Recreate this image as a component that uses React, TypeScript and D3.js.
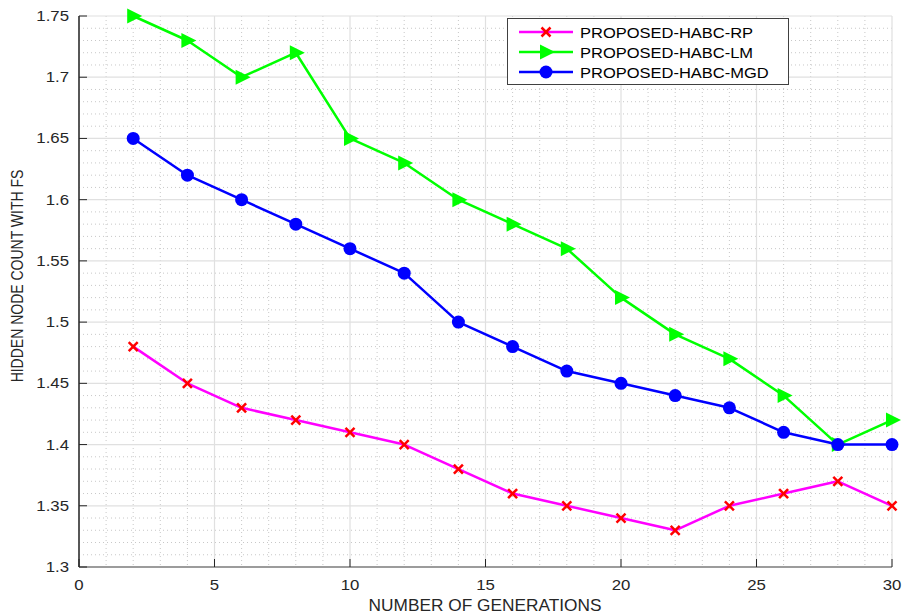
import React from "react";
import * as d3 from "d3";

const generations = [2, 4, 6, 8, 10, 12, 14, 16, 18, 20, 22, 24, 26, 28, 30];
const rpValues = [1.48, 1.45, 1.43, 1.42, 1.41, 1.40, 1.38, 1.36, 1.35, 1.34, 1.33, 1.35, 1.36, 1.37, 1.35];
const lmValues = [1.75, 1.73, 1.70, 1.72, 1.65, 1.63, 1.60, 1.58, 1.56, 1.52, 1.49, 1.47, 1.44, 1.40, 1.42];
const mgdValues = [1.65, 1.62, 1.60, 1.58, 1.56, 1.54, 1.50, 1.48, 1.46, 1.45, 1.44, 1.43, 1.41, 1.40, 1.40];
const xTicks = [0, 5, 10, 15, 20, 25, 30];
const yTicks = [1.3, 1.35, 1.4, 1.45, 1.5, 1.55, 1.6, 1.65, 1.7, 1.75];
const seriesNames = ["PROPOSED-HABC-RP", "PROPOSED-HABC-LM", "PROPOSED-HABC-MGD"];
const xLabel = "NUMBER OF GENERATIONS";
const yLabel = "HIDDEN NODE COUNT WITH FS";

const W = 904, H = 614;
const L = 79, R = 892, T = 16, B = 567;

export default function App() {
  const x = d3.scaleLinear().domain([0, 30]).range([L, R]);
  const y = d3.scaleLinear().domain([1.3, 1.75]).range([B, T]);
  const line = d3.line<[number, number]>().x(d => x(d[0])).y(d => y(d[1]));
  const xMinor = d3.range(0, 31, 1);
  const yMinor = d3.range(0, 46, 1).map(i => 1.3 + i * 0.01);
  const font = "Arial, 'Liberation Sans', Helvetica, sans-serif";
  const txt = "#262626";

  const series = [
    { name: seriesNames[0], vals: rpValues, color: "#ff00ff", marker: "x" },
    { name: seriesNames[1], vals: lmValues, color: "#00ff00", marker: "tri" },
    { name: seriesNames[2], vals: mgdValues, color: "#0000ff", marker: "o" },
  ];

  const marker = (m: string, cx: number, cy: number, key: any) => {
    if (m === "x") {
      const s = 4.5;
      return (
        <g key={key} stroke="#ff0000" strokeWidth={2.5}>
          <line x1={cx - s} y1={cy - s} x2={cx + s} y2={cy + s} />
          <line x1={cx - s} y1={cy + s} x2={cx + s} y2={cy - s} />
        </g>
      );
    }
    if (m === "tri") {
      return <path key={key} d={`M${cx - 6},${cy - 7.5}L${cx + 9},${cy}L${cx - 6},${cy + 7.5}Z`} fill="#00ff00" />;
    }
    return <circle key={key} cx={cx} cy={cy} r={6.5} fill="#0000ff" />;
  };

  return (
    <svg width={W} height={H} style={{ position: "absolute", left: 0, top: 0, background: "#fff" }}>
      <rect x={0} y={0} width={W} height={H} fill="#fff" />
      {/* minor grid */}
      {xMinor.filter(v => v % 5 !== 0).map(v => (
        <line key={"xm" + v} x1={x(v)} x2={x(v)} y1={T} y2={B} stroke="#c8c8c8" strokeWidth={1} strokeDasharray="1,3" />
      ))}
      {yMinor.filter((v, i) => i % 5 !== 0).map((v, i) => (
        <line key={"ym" + i} x1={L} x2={R} y1={y(v)} y2={y(v)} stroke="#c8c8c8" strokeWidth={1} strokeDasharray="1,3" />
      ))}
      {/* major grid */}
      {xTicks.map(v => (
        <line key={"xg" + v} x1={x(v)} x2={x(v)} y1={T} y2={B} stroke="#e0e0e0" strokeWidth={1.2} />
      ))}
      {yTicks.map(v => (
        <line key={"yg" + v} x1={L} x2={R} y1={y(v)} y2={y(v)} stroke="#e0e0e0" strokeWidth={1.2} />
      ))}
      {/* axes */}
      <line x1={L} x2={R} y1={B} y2={B} stroke="#808080" strokeWidth={1.5} />
      <line x1={L} x2={L} y1={T} y2={B} stroke="#262626" strokeWidth={1.5} />
      {xTicks.map(v => (
        <g key={"xt" + v}>
          <line x1={x(v)} x2={x(v)} y1={B} y2={B - 8} stroke="#262626" strokeWidth={1} />
          <text transform={`translate(${x(v)},${B + 23}) scale(1.12,1)`} textAnchor="middle" fontFamily={font} fontSize={15} fill={txt}>{v}</text>
        </g>
      ))}
      {yTicks.map(v => (
        <g key={"yt" + v}>
          <line x1={L} x2={L + 8} y1={y(v)} y2={y(v)} stroke="#262626" strokeWidth={1} />
          <text transform={`translate(${L - 10},${y(v) + 5}) scale(1.12,1)`} textAnchor="end" fontFamily={font} fontSize={15} fill={txt}>{String(v)}</text>
        </g>
      ))}
      <text transform={`translate(${485},611) scale(1.08,1)`} textAnchor="middle" fontFamily={font} fontSize={16} fill={txt}>{xLabel}</text>
      <text transform={`translate(23,${276}) rotate(-90) scale(1,1.15)`} textAnchor="middle" fontFamily={font} fontSize={14} fill={txt}>{yLabel}</text>
      {/* series */}
      {series.map(s => {
        const pts = generations.map((g, i) => [g, s.vals[i]] as [number, number]);
        return (
          <g key={s.name}>
            <path d={line(pts) || ""} fill="none" stroke={s.color} strokeWidth={2.5} strokeLinejoin="round" />
            {pts.map((p, i) => marker(s.marker, x(p[0]), y(p[1]), i))}
          </g>
        );
      })}
      {/* legend */}
      <rect x={507.5} y={18.5} width={281} height={66} fill="#fff" stroke="#404040" strokeWidth={1} />
      {series.map((s, i) => {
        const cy = 32 + i * 20;
        return (
          <g key={"lg" + i}>
            <line x1={519} x2={573} y1={cy} y2={cy} stroke={s.color} strokeWidth={2.5} />
            {marker(s.marker, 546, cy, "m" + i)}
            <text transform={`translate(580,${cy + 5.5}) scale(1.1,1)`} fontFamily={font} fontSize={15} fill="#000">{s.name}</text>
          </g>
        );
      })}
    </svg>
  );
}
